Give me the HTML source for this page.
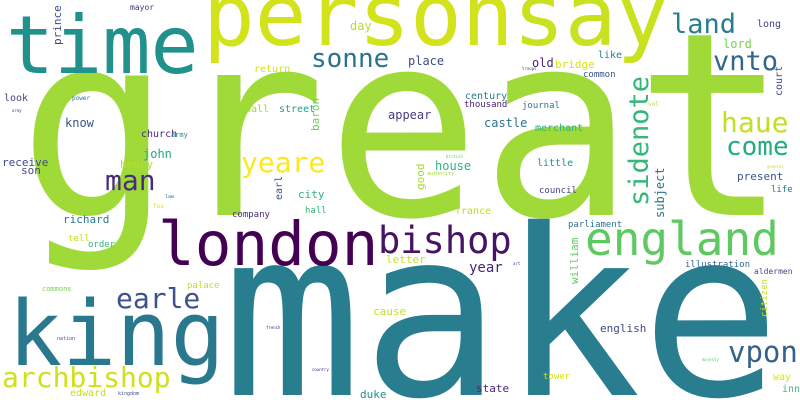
<!DOCTYPE html>
<html><head><meta charset="utf-8"><style>
html,body{margin:0;padding:0;background:#fff;width:800px;height:400px;overflow:hidden}
svg{display:block}
text{font-family:"DejaVu Sans Mono","Liberation Mono",monospace}
</style></head><body>
<svg width="800" height="400" viewBox="0 0 800 400">
<rect width="800" height="400" fill="#fff"/>
<text x="18" y="215" font-size="256" fill="#a0da39">great</text>
<text x="222" y="395" font-size="232" fill="#287d8e">make</text>
<text x="203" y="45" font-size="86" fill="#d2e21b">person</text>
<text x="513" y="45" font-size="86" fill="#cae11f">say</text>
<text x="6" y="73" font-size="80" fill="#21918c">time</text>
<text x="8" y="365" font-size="90" fill="#2a788e">king</text>
<text x="158" y="265" font-size="61" fill="#440154">london</text>
<text x="378" y="253" font-size="37" fill="#471365">bishop</text>
<text x="585" y="255" font-size="46" fill="#5ec962">england</text>
<text x="2" y="387" font-size="28" fill="#d0e11c">archbishop</text>
<text x="116" y="308" font-size="28" fill="#3b528b">earle</text>
<text x="728" y="362" font-size="29" fill="#33638d">vpon</text>
<text x="105" y="190" font-size="28" fill="#472d7b">man</text>
<text x="241" y="172" font-size="28" fill="#fde725">yeare</text>
<text x="311" y="67" font-size="26" fill="#2c728e">sonne</text>
<text x="671" y="33" font-size="27" fill="#277f8e">land</text>
<text x="713" y="70" font-size="27" fill="#31668e">vnto</text>
<text x="721" y="132" font-size="28" fill="#c2df23">haue</text>
<text x="726" y="155" font-size="26" fill="#25ab82">come</text>
<text x="648" y="206" font-size="27" fill="#35b779" transform="rotate(-90 648 206)">sidenote</text>
<text x="664" y="218" font-size="12" fill="#2c728e" transform="rotate(-90 664 218)">subject</text>
<text x="424" y="190" font-size="11" fill="#a5db36" transform="rotate(-90 424 190)">good</text>
<text x="61" y="45" font-size="11" fill="#3e4a89" transform="rotate(-90 61 45)">prince</text>
<text x="319" y="131" font-size="11" fill="#6ccd5a" transform="rotate(-90 319 131)">baron</text>
<text x="282" y="200" font-size="10" fill="#3b528b" transform="rotate(-90 282 200)">earl</text>
<text x="578" y="284" font-size="11" fill="#5ec962" transform="rotate(-90 578 284)">william</text>
<text x="767" y="317" font-size="9" fill="#c2df23" transform="rotate(-90 767 317)">citizen</text>
<text x="782" y="96" font-size="10" fill="#414487" transform="rotate(-90 782 96)">court</text>
<g>
<text x="130" y="10" font-size="8" fill="#46337e">mayor</text>
<text x="350" y="30" font-size="12" fill="#b5de2b">day</text>
<text x="254" y="72" font-size="10" fill="#d2e21b">return</text>
<text x="4" y="101" font-size="10" fill="#414487">look</text>
<text x="72" y="100" font-size="6" fill="#2a788e">power</text>
<text x="12" y="112" font-size="4" fill="#3e4a89">army</text>
<text x="245" y="112" font-size="10" fill="#a0da39">wall</text>
<text x="279" y="112" font-size="10" fill="#1fa187">street</text>
<text x="388" y="119" font-size="12" fill="#433e85">appear</text>
<text x="65" y="127" font-size="12" fill="#3b528b">know</text>
<text x="141" y="137" font-size="10" fill="#482878">church</text>
<text x="171" y="137" font-size="7" fill="#21918c">army</text>
<text x="143" y="158" font-size="12" fill="#22a884">john</text>
<text x="120" y="168" font-size="11" fill="#b5de2b">henry</text>
<text x="2" y="166" font-size="11" fill="#3e4a89">receive</text>
<text x="21" y="174" font-size="11" fill="#3e4a89">son</text>
<text x="298" y="198" font-size="11" fill="#2fb47c">city</text>
<text x="165" y="198" font-size="5" fill="#26828e">law</text>
<text x="408" y="65" font-size="12" fill="#3e4a89">place</text>
<text x="532" y="67" font-size="12" fill="#482475">old</text>
<text x="555" y="68" font-size="11" fill="#d8e219">bridge</text>
<text x="598" y="58" font-size="10" fill="#26828e">like</text>
<text x="583" y="77" font-size="9" fill="#3b528b">common</text>
<text x="757" y="27" font-size="10" fill="#414487">long</text>
<text x="723" y="48" font-size="12" fill="#7ad151">lord</text>
<text x="522" y="70" font-size="4" fill="#3e4a89">troops</text>
<text x="465" y="99" font-size="10" fill="#2a788e">century</text>
<text x="464" y="107" font-size="9" fill="#482173">thousand</text>
<text x="522" y="108" font-size="9" fill="#2a788e">journal</text>
<text x="648" y="106" font-size="6" fill="#addc30">vol</text>
<text x="484" y="127" font-size="12" fill="#2c728e">castle</text>
<text x="535" y="131" font-size="10" fill="#29af7f">merchant</text>
<text x="435" y="170" font-size="12" fill="#2db27d">house</text>
<text x="446" y="158" font-size="4" fill="#5ec962">british</text>
<text x="427" y="175" font-size="5" fill="#a0da39">authority</text>
<text x="537" y="166" font-size="10" fill="#21918c">little</text>
<text x="737" y="180" font-size="11" fill="#3b528b">present</text>
<text x="767" y="168" font-size="4" fill="#c2df23">general</text>
<text x="539" y="193" font-size="9" fill="#414487">council</text>
<text x="771" y="192" font-size="9" fill="#2a788e">life</text>
<text x="153" y="208" font-size="6" fill="#d8e219">fos</text>
<text x="232" y="217" font-size="9" fill="#482878">company</text>
<text x="305" y="213" font-size="9" fill="#35b779">hall</text>
<text x="63" y="223" font-size="11" fill="#2a788e">richard</text>
<text x="68" y="241" font-size="9" fill="#c8e020">tell</text>
<text x="88" y="247" font-size="9" fill="#2fb47c">order</text>
<text x="42" y="291" font-size="7" fill="#75d054">commons</text>
<text x="187" y="288" font-size="9" fill="#c2df23">palace</text>
<text x="373" y="315" font-size="11" fill="#c8e020">cause</text>
<text x="386" y="263" font-size="11" fill="#c8e020">letter</text>
<text x="455" y="214" font-size="10" fill="#b5de2b">france</text>
<text x="568" y="227" font-size="9" fill="#2c728e">parliament</text>
<text x="469" y="272" font-size="14" fill="#482475">year</text>
<text x="513" y="265" font-size="4" fill="#3e4a89">art</text>
<text x="685" y="267" font-size="9" fill="#31688e">illustration</text>
<text x="754" y="274" font-size="8" fill="#3e4a89">aldermen</text>
<text x="57" y="340" font-size="5" fill="#3b528b">nation</text>
<text x="266" y="329" font-size="4" fill="#482878">french</text>
<text x="600" y="332" font-size="11" fill="#3e4a89">english</text>
<text x="702" y="361" font-size="4" fill="#5ec962">majesty</text>
<text x="312" y="371" font-size="4" fill="#482475">country</text>
<text x="118" y="395" font-size="5" fill="#3b528b">kingdom</text>
<text x="70" y="396" font-size="10" fill="#c2df23">edward</text>
<text x="360" y="398" font-size="11" fill="#21918c">duke</text>
<text x="476" y="392" font-size="11" fill="#482475">state</text>
<text x="543" y="379" font-size="9" fill="#d8e219">tower</text>
<text x="773" y="380" font-size="10" fill="#d8e219">way</text>
<text x="782" y="392" font-size="10" fill="#3aba76">inn</text>
</g>
</svg>
</body></html>
